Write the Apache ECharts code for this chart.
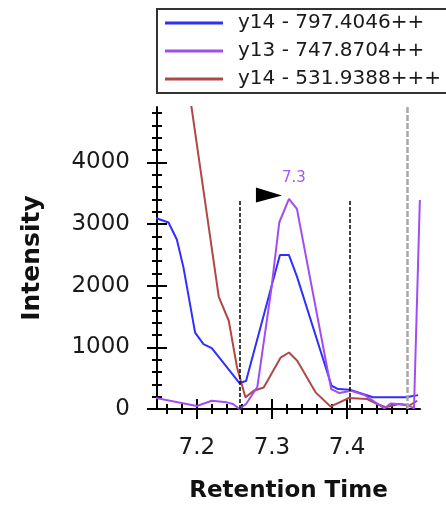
<!DOCTYPE html>
<html><head><meta charset="utf-8">
<script src="https://cdn.jsdelivr.net/npm/echarts@6/dist/echarts.min.js"></script>
<style>html,body{margin:0;padding:0;background:#fff}#c{width:446px;height:508px}</style>
</head><body><div id="c"></div>
<script>
const seriesNames = ['y14 - 797.4046++', 'y13 - 747.8704++', 'y14 - 531.9388+++'];
const seriesColors = ['#2f2fff', '#a04ef0', '#b04848'];

const blueTime = [7.145, 7.1623, 7.1734, 7.1822, 7.1977, 7.2088, 7.2199, 7.2568, 7.2655, 7.3106, 7.3226, 7.3332, 7.3793, 7.3880, 7.4036, 7.4343, 7.4780, 7.4945];
const blueIntensity = [3100, 3026, 2751, 2298, 1238, 1052, 987, 421, 453, 2497, 2497, 2152, 377, 324, 312, 190, 190, 225];

const purpleTime = [7.145, 7.2, 7.2199, 7.2398, 7.2482, 7.2566, 7.2655, 7.2805, 7.2991, 7.3097, 7.3226, 7.3332, 7.3788, 7.3899, 7.4053, 7.4231, 7.4496, 7.4580, 7.4800, 7.4890, 7.4968];
const purpleIntensity = [180, 49, 134, 108, 81, 0, 81, 356, 1942, 3026, 3409, 3248, 324, 259, 296, 227, 10, 90, 70, 10, 3390];

const brownTime = [7.1778, 7.2292, 7.2425, 7.2535, 7.2647, 7.2757, 7.2890, 7.3114, 7.3226, 7.3336, 7.3580, 7.3779, 7.4023, 7.4266, 7.4400, 7.4512, 7.4689, 7.4822, 7.4933];
const brownIntensity = [6180, 1820, 1432, 675, 189, 296, 348, 833, 917, 782, 270, 40, 178, 162, 81, 28, 81, 53, 134];

const xMajorTicks = [7.2, 7.3, 7.4];
const xMinorTicks = [7.16, 7.18, 7.22, 7.24, 7.26, 7.28, 7.32, 7.34, 7.36, 7.38, 7.42, 7.44, 7.46, 7.48];
const yMajorTicks = [0, 1000, 2000, 3000, 4000];
const yMinorTicks = [200, 400, 600, 800, 1200, 1400, 1600, 1800, 2200, 2400, 2600, 2800, 3200, 3400, 3600, 3800, 4200, 4400, 4600, 4800];

const xRange = [7.147, 7.497];
const yRange = [0, 4900];

const peakApexTime = 7.3226;
const peakApexIntensity = 3409;
const boundaryTimes = [7.257, 7.4036];
const markerTime = 7.4833;

function zip(a, b) { return a.map((v, i) => [v, b[i]]); }

const FONT = 'DejaVu Sans';
const tickStyle = { color: '#000', width: 2 };

function makeAxes(kind) {
  const isX = kind === 'x';
  const range = isX ? xRange : yRange;
  const major = isX ? xMajorTicks : yMajorTicks;
  const minor = isX ? xMinorTicks : yMinorTicks;
  const base = {
    type: 'value', min: range[0], max: range[1], gridIndex: 0,
    position: isX ? 'bottom' : 'left',
    splitLine: { show: false },
    axisLine: { show: false, onZero: false },
    axisLabel: { show: false },
    axisTick: { show: false }
  };
  const main = Object.assign({}, base, {
    axisLine: { show: true, onZero: false, lineStyle: { color: '#000', width: 2 } },
    axisTick: { show: true, customValues: major, length: 10, inside: false, lineStyle: tickStyle },
    axisLabel: {
      show: true, customValues: major, color: '#1a1a1a', fontFamily: FONT, fontSize: 23,
      margin: isX ? 28 : 27,
      formatter: isX ? (v => v.toFixed(1)) : (v => String(v))
    },
    name: isX ? 'Retention Time' : 'Intensity',
    nameLocation: 'middle',
    nameGap: isX ? 71 : 112,
    nameTextStyle: { fontFamily: FONT, fontWeight: 'bold', fontSize: isX ? 23 : 25, color: '#111' }
  });
  const majorIn = Object.assign({}, base, {
    axisTick: { show: true, customValues: major, length: 10, inside: true, lineStyle: tickStyle }
  });
  const minorOut = Object.assign({}, base, {
    axisTick: { show: true, customValues: minor, length: 5, inside: false, lineStyle: tickStyle }
  });
  const minorIn = Object.assign({}, base, {
    axisTick: { show: true, customValues: minor, length: 5, inside: true, lineStyle: tickStyle }
  });
  return [main, majorIn, minorOut, minorIn];
}

const chart = echarts.init(document.getElementById('c'), null, { renderer: 'canvas' });

const lineBase = { type: 'line', showSymbol: false, symbol: 'none', xAxisIndex: 0, yAxisIndex: 0, animation: false, clip: true };

chart.setOption({
  animation: false,
  backgroundColor: '#fff',
  grid: { left: 157, top: 107, right: 26, bottom: 98, containLabel: false },
  legend: {
    orient: 'vertical', left: 157, top: 9,
    padding: [4, 30, 4, 8],
    itemWidth: 58, itemHeight: 3, itemGap: 8, icon: 'rect',
    borderColor: '#333', borderWidth: 2,
    selectedMode: false,
    textStyle: { fontFamily: FONT, fontSize: 20, color: '#1a1a1a', lineHeight: 20, padding: [0, 0, 0, 10] },
    data: seriesNames
  },
  xAxis: makeAxes('x'),
  yAxis: makeAxes('y'),
  series: [
    Object.assign({}, lineBase, {
      name: seriesNames[0], color: seriesColors[0], z: 3,
      lineStyle: { color: seriesColors[0], width: 2 },
      data: zip(blueTime, blueIntensity)
    }),
    Object.assign({}, lineBase, {
      name: seriesNames[1], color: seriesColors[1], z: 4,
      lineStyle: { color: seriesColors[1], width: 2 },
      data: zip(purpleTime, purpleIntensity),
      markLine: {
        silent: true, animation: false, symbol: ['none', 'none'], label: { show: false },
        data: [
          [{ coord: [boundaryTimes[0], 0], lineStyle: { color: '#111', width: 1.6, type: [4, 2] } }, { coord: [boundaryTimes[0], peakApexIntensity] }],
          [{ coord: [boundaryTimes[1], 0], lineStyle: { color: '#111', width: 1.6, type: [4, 2] } }, { coord: [boundaryTimes[1], peakApexIntensity] }],
          { xAxis: markerTime, lineStyle: { color: '#a8a8a8', width: 2.5, type: [6, 2] } }
        ]
      },
      markPoint: {
        silent: true, animation: false,
        data: [
          { coord: [peakApexTime, peakApexIntensity], symbol: 'path://M0,0 L26,8 L0,15 Z', symbolSize: [26, 15], symbolOffset: [-20, -4], itemStyle: { color: '#000' }, label: { show: false } },
          { coord: [peakApexTime, peakApexIntensity], symbol: 'circle', symbolSize: 1, itemStyle: { color: 'rgba(0,0,0,0)' },
            label: { show: true, position: 'inside', offset: [5, -21], formatter: peakApexTime.toFixed(1), color: '#a855f7', fontFamily: FONT, fontSize: 15 } }
        ]
      }
    }),
    Object.assign({}, lineBase, {
      name: seriesNames[2], color: seriesColors[2], z: 2,
      lineStyle: { color: seriesColors[2], width: 2 },
      data: zip(brownTime, brownIntensity)
    })
  ]
});
</script></body></html>
